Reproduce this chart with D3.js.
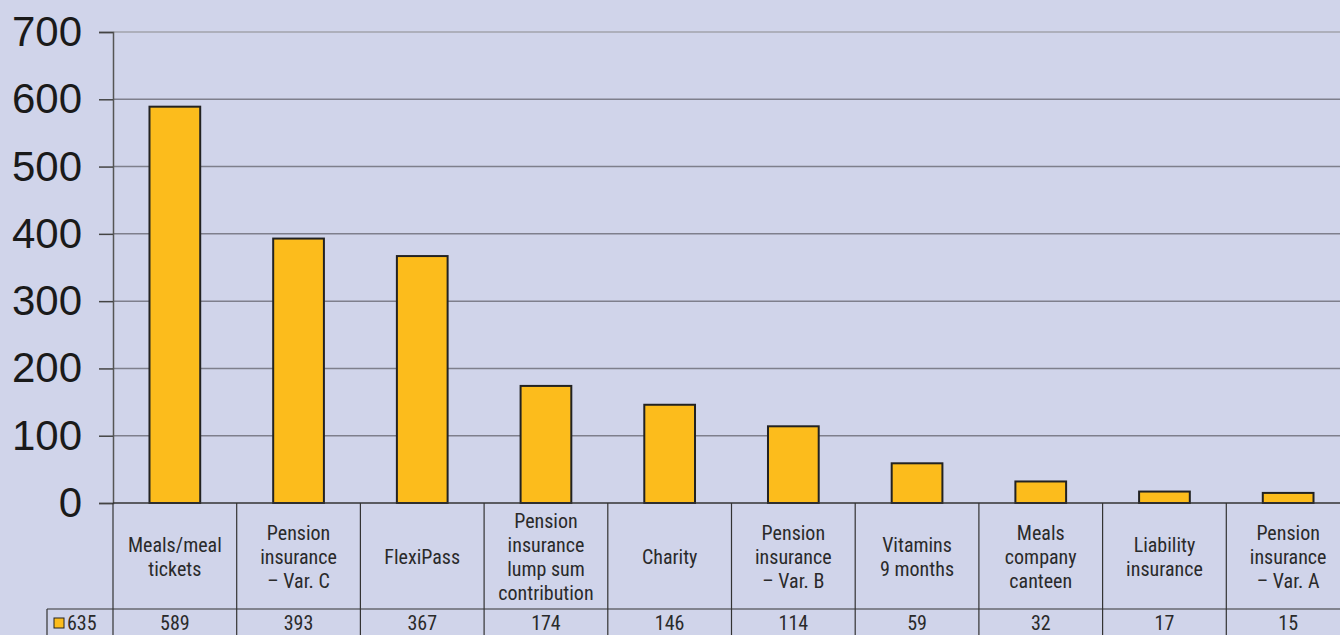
<!DOCTYPE html>
<html>
<head>
<meta charset="utf-8">
<script src="https://cdn.jsdelivr.net/npm/d3@7"></script>
<style>
  body { margin: 0; background: #d0d4ea; overflow: hidden; }
  svg { display: block; }
  .cat { font-family: "Liberation Sans Narrow", "Roboto Condensed", "Noto Sans", sans-serif; font-size: 20px; fill: #2a2a2a; }
</style>
</head>
<body>
<div id="chart"></div>
<script>
// data
var categories = ["Meals/meal tickets", "Pension insurance – Var. C", "FlexiPass",
  "Pension insurance lump sum contribution", "Charity", "Pension insurance – Var. B",
  "Vitamins 9 months", "Meals company canteen", "Liability insurance", "Pension insurance – Var. A"];
var labelLines = [["Meals/meal", "tickets"], ["Pension", "insurance", "– Var. C"], ["FlexiPass"],
  ["Pension", "insurance", "lump sum", "contribution"], ["Charity"], ["Pension", "insurance", "– Var. B"],
  ["Vitamins", "9 months"], ["Meals", "company", "canteen"], ["Liability", "insurance"], ["Pension", "insurance", "– Var. A"]];
var values = [589, 393, 367, 174, 146, 114, 59, 32, 17, 15];
var seriesName = "635";
var yTicks = [0, 100, 200, 300, 400, 500, 600, 700];

var W = 1340, H = 635;
var plotLeft = 113, plotTop = 32, plotBottom = 503, colW = 123.7;
var rowSplit = 609;

var svg = d3.select("#chart").append("svg")
  .attr("width", W).attr("height", H);

var x = d3.scaleBand()
  .domain(categories)
  .range([plotLeft, plotLeft + colW * categories.length])
  .paddingInner(0).paddingOuter(0);

var y = d3.scaleLinear()
  .domain([0, 700])
  .range([plotBottom, plotTop]);

// gridlines
svg.append("g").selectAll("line")
  .data(yTicks.filter(function(d) { return d > 0; }))
  .enter().append("line")
    .attr("x1", plotLeft).attr("x2", W)
    .attr("y1", function(d) { return y(d); })
    .attr("y2", function(d) { return y(d); })
    .attr("stroke", function(d) { return d === 700 ? "#a2a3ab" : "#7e7f8c"; })
    .attr("stroke-width", 1.5);

// y axis
var yAxis = svg.append("g")
  .attr("transform", "translate(" + plotLeft + ",0)")
  .call(d3.axisLeft(y).tickValues(yTicks).tickSize(14).tickPadding(17));
yAxis.select(".domain").attr("stroke", "#555").attr("stroke-width", 1.5);
yAxis.selectAll(".tick line").attr("stroke", "#444").attr("stroke-width", 1.5);
yAxis.selectAll("text")
  .attr("font-family", "'Liberation Sans', Arial, sans-serif")
  .attr("font-size", 42)
  .attr("fill", "#1a1a1a");

// bars
var bw = x.bandwidth() * 0.41;
svg.append("g").selectAll("rect")
  .data(values)
  .enter().append("rect")
    .attr("x", function(d, i) { return x(categories[i]) + (x.bandwidth() - bw) / 2; })
    .attr("y", function(d) { return y(d); })
    .attr("width", bw)
    .attr("height", function(d) { return y(0) - y(d); })
    .attr("fill", "#fcbc1c")
    .attr("stroke", "#222")
    .attr("stroke-width", 2);

// data table
var tbl = svg.append("g");
tbl.append("line")
  .attr("x1", plotLeft).attr("x2", W).attr("y1", plotBottom).attr("y2", plotBottom)
  .attr("stroke", "#333").attr("stroke-width", 1.5);
tbl.append("line")
  .attr("x1", 47).attr("x2", W).attr("y1", rowSplit).attr("y2", rowSplit)
  .attr("stroke", "#333").attr("stroke-width", 1.2);
tbl.append("line")
  .attr("x1", 47).attr("x2", 47).attr("y1", rowSplit).attr("y2", H)
  .attr("stroke", "#333").attr("stroke-width", 1.2);
tbl.selectAll(".vline")
  .data(categories)
  .enter().append("line")
    .attr("class", "vline")
    .attr("x1", function(d) { return x(d); })
    .attr("x2", function(d) { return x(d); })
    .attr("y1", plotBottom).attr("y2", H)
    .attr("stroke", "#333").attr("stroke-width", 1.2);

// category labels
var lineH = 24, headMid = (plotBottom + rowSplit) / 2 + 1;
categories.forEach(function(c, i) {
  var lines = labelLines[i];
  var cx = x(c) + x.bandwidth() / 2;
  var t = tbl.append("text").attr("class", "cat").attr("text-anchor", "middle");
  lines.forEach(function(l, j) {
    t.append("tspan")
      .attr("x", cx)
      .attr("y", headMid + (j - (lines.length - 1) / 2) * lineH)
      .attr("dy", "0.35em")
      .text(l);
  });
});

// value row
tbl.selectAll(".val")
  .data(values)
  .enter().append("text")
    .attr("class", "cat")
    .attr("text-anchor", "middle")
    .attr("x", function(d, i) { return x(categories[i]) + x.bandwidth() / 2; })
    .attr("y", 623)
    .attr("dy", "0.35em")
    .text(function(d) { return d; });

// legend key
tbl.append("rect")
  .attr("x", 54).attr("y", 618).attr("width", 10).attr("height", 10)
  .attr("fill", "#fcbc1c").attr("stroke", "#222").attr("stroke-width", 1);
tbl.append("text")
  .attr("class", "cat")
  .attr("x", 67).attr("y", 623).attr("dy", "0.35em")
  .text(seriesName);
</script>
</body>
</html>
